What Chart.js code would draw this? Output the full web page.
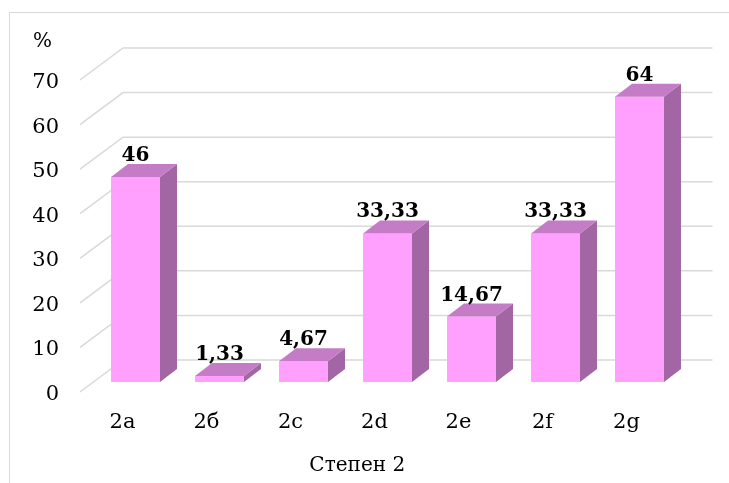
<!DOCTYPE html>
<html>
<head>
<meta charset="utf-8">
<script src="https://cdn.jsdelivr.net/npm/chart.js@4.4.0/dist/chart.umd.min.js"></script>
<style>
  body { margin: 0; background: #fff; }
</style>
</head>
<body>
<canvas id="chart_3d_bars" width="729" height="483"></canvas>
<script>
const categories = ['2a', '2б', '2c', '2d', '2e', '2f', '2g'];
const percentValues = [46, 1.33, 4.67, 33.33, 14.67, 33.33, 64];
const yTicks = [0, 10, 20, 30, 40, 50, 60, 70];

const FRONT = '#ffa0ff';
const TOP = '#c47cc6';
const SIDE = '#a166a3';
const GRID = '#d9d9d9';

// depth of the bars
const BAR_DX = 17, BAR_DY = -13;

/* =========================
   Frame, 3D grid, bar tops / sides, value labels
========================= */
const threeD = {
    id: 'threeD',
    beforeDraw(chart) {
        const c = chart.ctx;
        c.save();
        c.fillStyle = '#fff';
        c.fillRect(0, 0, chart.width, chart.height);
        c.strokeStyle = GRID;
        c.lineWidth = 1;
        c.beginPath();
        c.moveTo(9.5, chart.height + 2);
        c.lineTo(9.5, 12.5);
        c.lineTo(chart.width + 2, 12.5);
        c.stroke();
        c.restore();
    },
    beforeDatasetsDraw(chart) {
        const c = chart.ctx;
        const y = chart.scales.y;
        const area = chart.chartArea;
        c.save();
        c.strokeStyle = GRID;
        c.lineWidth = 1.5;
        yTicks.forEach(v => {
            const py = y.getPixelForValue(v);
            c.beginPath();
            c.moveTo(area.left - 13.5, py + 10);
            c.lineTo(area.left + 29.5, py - 22);
            c.lineTo(area.right + 31, py - 22);
            c.stroke();
        });
        c.restore();
    },
    afterDatasetsDraw(chart) {
        const c = chart.ctx;
        const meta = chart.getDatasetMeta(0);
        c.save();
        meta.data.forEach((bar, i) => {
            const p = bar.getProps(['x', 'y', 'base', 'width'], true);
            const l = p.x - p.width / 2;
            const r = p.x + p.width / 2;

            // side
            c.fillStyle = SIDE;
            c.beginPath();
            c.moveTo(r, p.y);
            c.lineTo(r + BAR_DX, p.y + BAR_DY);
            c.lineTo(r + BAR_DX, p.base + BAR_DY);
            c.lineTo(r, p.base);
            c.closePath();
            c.fill();

            // top
            c.fillStyle = TOP;
            c.beginPath();
            c.moveTo(l, p.y);
            c.lineTo(l + BAR_DX, p.y + BAR_DY);
            c.lineTo(r + BAR_DX, p.y + BAR_DY);
            c.lineTo(r, p.y);
            c.closePath();
            c.fill();

            // value label
            c.fillStyle = '#000';
            c.font = 'bold 20px "DejaVu Serif"';
            c.textAlign = 'center';
            c.textBaseline = 'alphabetic';
            c.fillText(String(percentValues[i]).replace('.', ','), p.x, p.y - 16);
        });
        c.restore();
    }
};

Chart.defaults.font.family = '"DejaVu Serif", serif';
Chart.defaults.color = '#000';

const ctx = document.getElementById('chart_3d_bars').getContext('2d');

new Chart(ctx, {
    type: 'bar',
    data: {
        labels: categories,
        datasets: [{
            data: percentValues,
            backgroundColor: FRONT,
            borderWidth: 0,
            categoryPercentage: 1,
            barPercentage: 0.583
        }]
    },
    options: {
        responsive: false,
        animation: false,
        layout: {
            padding: { left: 33, right: 47.5, top: 0, bottom: 0 }
        },
        plugins: {
            legend: { display: false },
            tooltip: { enabled: false },
            title: {
                display: true,
                text: '%',
                align: 'start',
                color: '#000',
                font: { size: 20, weight: 'normal' },
                padding: { top: 30, bottom: 16 }
            },
            subtitle: {
                display: true,
                text: 'Степен 2',
                position: 'bottom',
                align: 'center',
                color: '#000',
                font: { size: 20 },
                padding: { top: 20, bottom: 5 }
            }
        },
        scales: {
            x: {
                offset: true,
                grid: { display: false, drawTicks: false },
                border: { display: false },
                ticks: { padding: 28.4, labelOffset: -13, font: { size: 21 } },
                afterFit(scale) { scale.height = 52; }
            },
            y: {
                min: 0,
                max: 70,
                grid: { display: false, drawTicks: false },
                border: { display: false },
                ticks: { stepSize: 10, padding: 34.5, labelOffset: 12.5, font: { size: 21 } },
                afterFit(scale) { scale.width = 60.5; }
            }
        }
    },
    plugins: [threeD]
});
</script>
</body>
</html>
